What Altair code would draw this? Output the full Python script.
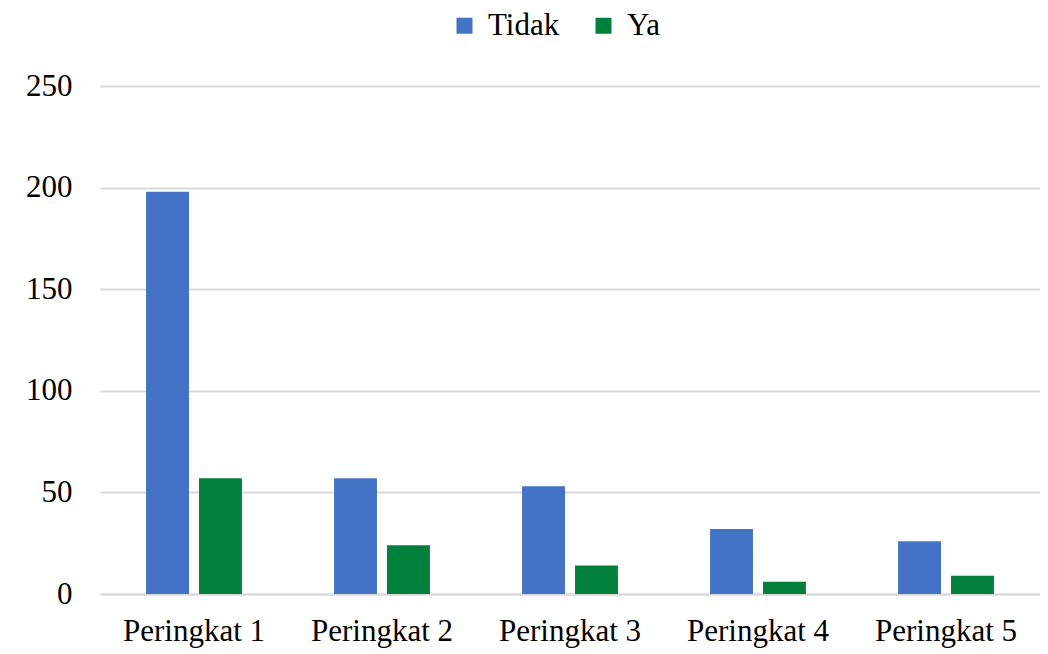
import altair as alt
import pandas as pd

categories = ["Peringkat 1", "Peringkat 2", "Peringkat 3", "Peringkat 4", "Peringkat 5"]
series = ["Tidak", "Ya"]
tidak = [198, 57, 53, 32, 26]
ya = [57, 24, 14, 6, 9]
colors = ["#4472C4", "#00803A"]

rows = []
for c, t, y in zip(categories, tidak, ya):
    rows.append({"cat": c, "series": "Tidak", "value": t})
    rows.append({"cat": c, "series": "Ya", "value": y})
df = pd.DataFrame(rows)

FONT = "Liberation Serif"
FS = 31

chart = alt.Chart(df).mark_bar().encode(
    x=alt.X("cat:N", sort=categories, title=None,
            scale=alt.Scale(paddingInner=0.49, paddingOuter=0.245),
            axis=alt.Axis(labelAngle=0, ticks=False, domain=True, domainColor="#d9d9d9",
                          domainWidth=2, labelFontSize=FS, labelFont=FONT, labelColor="#000000",
                          labelPadding=22)),
    xOffset=alt.XOffset("series:N", sort=series, scale=alt.Scale(paddingInner=0.19)),
    y=alt.Y("value:Q", title=None,
            scale=alt.Scale(domain=[0, 250]),
            axis=alt.Axis(values=[0, 50, 100, 150, 200, 250], ticks=False, domain=False,
                          gridColor="#d9d9d9", gridWidth=2, labelFontSize=FS, labelFont=FONT,
                          labelColor="#000000", labelPadding=28)),
    color=alt.Color("series:N", sort=series,
                    scale=alt.Scale(domain=series, range=colors),
                    legend=alt.Legend(title=None, orient="none", direction="horizontal",
                                      legendX=349, legendY=-76, symbolType="square",
                                      symbolSize=256, labelFontSize=FS, labelFont=FONT,
                                      labelColor="#000000", columnPadding=28, labelOffset=8,
                                      symbolStrokeWidth=0)),
).properties(
    width=940, height=508,
    autosize=alt.AutoSizeParams(type="none"),
    padding={"left": 92, "top": 78, "right": 0, "bottom": 56},
).configure_view(stroke=None)

chart.save("out.html", embed_options={"renderer": "svg", "actions": False})
